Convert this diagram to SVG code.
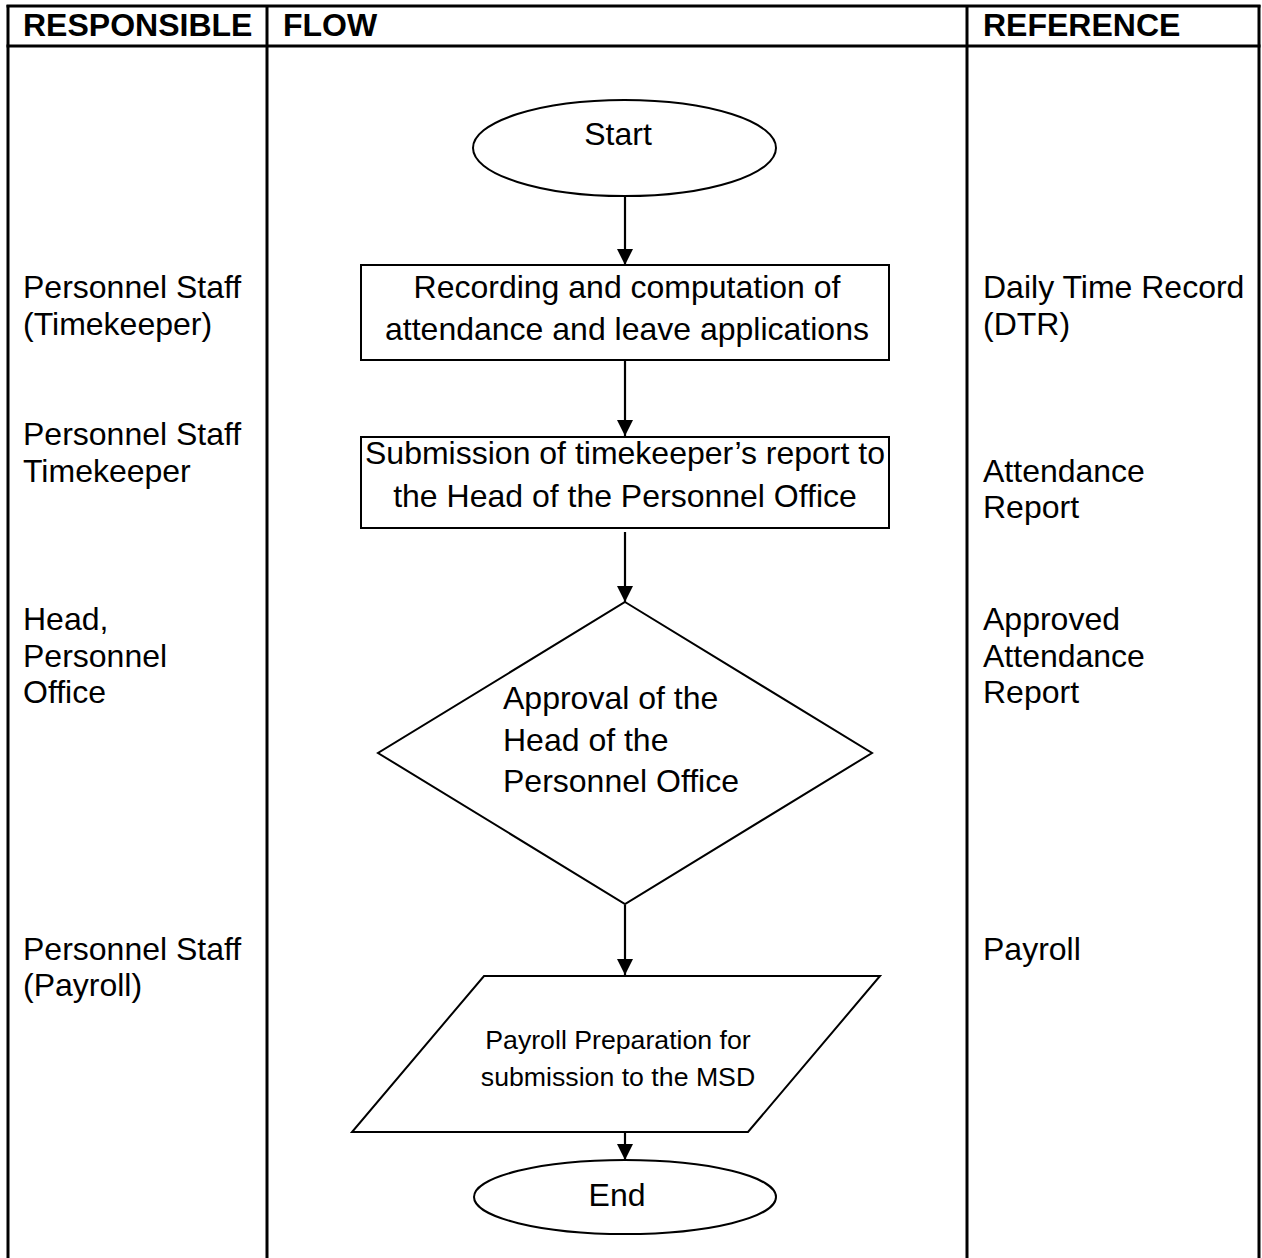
<svg xmlns="http://www.w3.org/2000/svg" width="1262" height="1258" viewBox="0 0 1262 1258">
<style>
text{font-family:"Liberation Sans",Arial,sans-serif;font-size:32px;fill:#000}
.h{font-weight:bold}
.c{text-anchor:middle}
.s{font-size:26.7px}
.shape{fill:#fff;stroke:#000;stroke-width:2}
.grid{stroke:#000;stroke-width:3;fill:none}
.conn{stroke:#000;stroke-width:2.2;fill:none;marker-end:url(#ah)}
</style>
<defs>
<marker id="ah" viewBox="0 0 16 18" refX="16" refY="8" markerWidth="16" markerHeight="18" markerUnits="userSpaceOnUse" orient="auto">
<path d="M0,0 L16,8 L0,16 Z" fill="#000"/>
</marker>
</defs>
<rect width="1262" height="1258" fill="#fff"/>
<g id="table">
<line class="grid" x1="6.5" y1="6" x2="1260.5" y2="6"/>
<line class="grid" x1="6.5" y1="46" x2="1260.5" y2="46"/>
<line class="grid" x1="8" y1="5" x2="8" y2="1258"/>
<line class="grid" x1="267" y1="5" x2="267" y2="1258"/>
<line class="grid" x1="967" y1="5" x2="967" y2="1258"/>
<line class="grid" x1="1259" y1="5" x2="1259" y2="1258"/>
<text class="h" x="23" y="36">RESPONSIBLE</text>
<text class="h" x="283" y="36">FLOW</text>
<text class="h" x="983" y="36">REFERENCE</text>
</g>
<g id="responsible">
<text x="23" y="298">Personnel Staff</text>
<text x="23" y="335">(Timekeeper)</text>
<text x="23" y="445">Personnel Staff</text>
<text x="23" y="482">Timekeeper</text>
<text x="23" y="630">Head,</text>
<text x="23" y="667">Personnel</text>
<text x="23" y="703">Office</text>
<text x="23" y="960">Personnel Staff</text>
<text x="23" y="996">(Payroll)</text>
</g>
<g id="reference">
<text x="983" y="298">Daily Time Record</text>
<text x="983" y="335">(DTR)</text>
<text x="983" y="482">Attendance</text>
<text x="983" y="518">Report</text>
<text x="983" y="630">Approved</text>
<text x="983" y="667">Attendance</text>
<text x="983" y="703">Report</text>
<text x="983" y="960">Payroll</text>
</g>
<g id="connectors">
<line class="conn" x1="625" y1="197" x2="625" y2="265"/>
<line class="conn" x1="625" y1="361" x2="625" y2="436"/>
<line class="conn" x1="625" y1="532" x2="625" y2="602"/>
<line class="conn" x1="625" y1="905" x2="625" y2="975"/>
<line class="conn" x1="625" y1="1133" x2="625" y2="1160"/>
</g>
<g id="start">
<ellipse class="shape" cx="624.5" cy="148" rx="151.5" ry="48"/>
<text class="c" x="618" y="145">Start</text>
</g>
<g id="recording">
<rect class="shape" x="361" y="265" width="528" height="95"/>
<text class="c" x="627" y="298">Recording and computation of</text>
<text class="c" x="627" y="340">attendance and leave applications</text>
</g>
<g id="submission">
<rect class="shape" x="361" y="437" width="528" height="91"/>
<text class="c" x="625" y="464">Submission of timekeeper’s report to</text>
<text class="c" x="625" y="507">the Head of the Personnel Office</text>
</g>
<g id="approval">
<polygon class="shape" points="625,602 872,753 625,904 378,753"/>
<text x="503" y="709">Approval of the</text>
<text x="503" y="751">Head of the</text>
<text x="503" y="792">Personnel Office</text>
</g>
<g id="payroll">
<polygon class="shape" points="484,976 880,976 748,1132 352,1132"/>
<text class="c s" x="618" y="1049">Payroll Preparation for</text>
<text class="c s" x="618" y="1086">submission to the MSD</text>
</g>
<g id="end">
<ellipse class="shape" cx="625" cy="1197" rx="151" ry="37"/>
<text class="c" x="617" y="1206">End</text>
</g>
</svg>
